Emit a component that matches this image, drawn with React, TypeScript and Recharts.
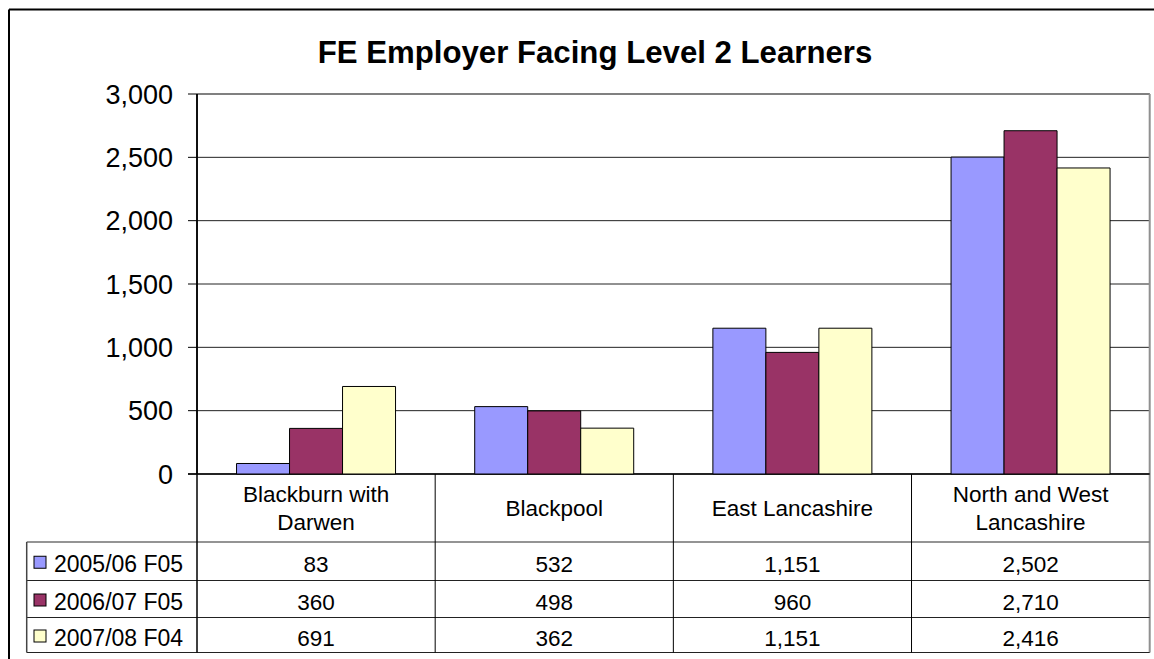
import { BarChart, Bar, XAxis, YAxis, CartesianGrid, Customized } from "recharts";

const categories = [
  "Blackburn with Darwen",
  "Blackpool",
  "East Lancashire",
  "North and West Lancashire",
];
// how each category name wraps in the table header
const categoryLines = [
  ["Blackburn with", "Darwen"],
  ["Blackpool"],
  ["East Lancashire"],
  ["North and West", "Lancashire"],
];

const seriesNames = ["2005/06 F05", "2006/07 F05", "2007/08 F04"];
const values0506 = [83, 532, 1151, 2502];
const values0607 = [360, 498, 960, 2710];
const values0708 = [691, 362, 1151, 2416];
const seriesColors = ["#9999FF", "#993366", "#FFFFCC"];

const yTicks = [0, 500, 1000, 1500, 2000, 2500, 3000];

const chartData = categories.map((name, i) => ({
  name,
  s0: values0506[i],
  s1: values0607[i],
  s2: values0708[i],
}));
const seriesValues = [values0506, values0607, values0708];

// layout in page coords (the chart covers the whole window)
const W = 1154;
const H = 659;
const PLOT_L = 197;
const PLOT_T = 94;
const PLOT_R = 1149.7;
const PLOT_B = 474;
const Y_AXIS_W = 80;
const HEADER_B = 542;
const ROW_LINES = [542, 580.5, 617.5, 652.5];
const TABLE_L = 26.7;
const FONT = "'Liberation Sans', Arial, sans-serif";

const fmt = (v: number) => v.toLocaleString("en-US");

const TableOverlay = () => {
  const band = (PLOT_R - PLOT_L) / categories.length;
  const headerMid = (PLOT_B + HEADER_B) / 2;
  return (
    <g fontFamily={FONT} fill="#000">
      {/* plot border, top + right */}
      <line x1={PLOT_L} y1={PLOT_T} x2={PLOT_R} y2={PLOT_T} stroke="#808080" strokeWidth={2} />
      <line x1={PLOT_R} y1={PLOT_T} x2={PLOT_R} y2={ROW_LINES[3]} stroke="#909090" strokeWidth={2} />
      {/* table horizontal lines */}
      <line x1={PLOT_L - 9} y1={PLOT_B} x2={PLOT_R} y2={PLOT_B} stroke="#000" strokeWidth={1.5} />
      {ROW_LINES.map((y, i) => (
        <line
          key={y}
          x1={TABLE_L}
          y1={y}
          x2={PLOT_R}
          y2={y}
          stroke={i === 0 ? "#707070" : "#222"}
          strokeWidth={i === 0 ? 1.5 : 1}
        />
      ))}
      <line x1={TABLE_L} y1={HEADER_B} x2={TABLE_L} y2={ROW_LINES[3]} stroke="#444" strokeWidth={1.5} />
      <line x1={PLOT_L} y1={PLOT_T} x2={PLOT_L} y2={ROW_LINES[3]} stroke="#000" strokeWidth={1.5} />
      {categories.slice(1).map((c, i) => (
        <line
          key={c}
          x1={PLOT_L + band * (i + 1)}
          y1={PLOT_B}
          x2={PLOT_L + band * (i + 1)}
          y2={ROW_LINES[3]}
          stroke="#000"
          strokeWidth={1}
        />
      ))}
      {/* header labels */}
      {categoryLines.map((lines, i) => {
        const cx = PLOT_L + band * (i + 0.5);
        return lines.map((t, j) => (
          <text
            key={t}
            x={cx}
            y={headerMid + 8 + (j - (lines.length - 1) / 2) * 28.5}
            textAnchor="middle"
            fontSize={22.5}
          >
            {t}
          </text>
        ));
      })}
      {/* rows */}
      {seriesNames.map((s, r) => {
        const mid = (ROW_LINES[r] + ROW_LINES[r + 1]) / 2;
        return (
          <g key={s}>
            <rect x={34} y={mid - 5} width={12} height={12} fill={seriesColors[r]} stroke="#000" strokeWidth={1} />
            <text x={54} y={mid + 10.5} fontSize={23}>
              {s}
            </text>
            {seriesValues[r].map((v, i) => (
              <text key={i} x={PLOT_L + band * (i + 0.5)} y={mid + 10.5} textAnchor="middle" fontSize={22.5}>
                {fmt(v)}
              </text>
            ))}
          </g>
        );
      })}
      {/* title */}
      <text x={595} y={63} textAnchor="middle" fontSize={31.2} fontWeight="bold">
        FE Employer Facing Level 2 Learners
      </text>
      {/* outer frame: only top and left edges fall inside the picture */}
      <line x1={9} y1={9.5} x2={W} y2={9.5} stroke="#000" strokeWidth={2} />
      <line x1={9} y1={9.5} x2={9} y2={H} stroke="#000" strokeWidth={2} />
    </g>
  );
};

export default function App() {
  return (
    <div
      style={{
        position: "absolute",
        left: 0,
        top: 0,
        width: W,
        height: H,
        overflow: "hidden",
        background: "#fff",
      }}
    >
      <BarChart
        width={W}
        height={H}
        data={chartData}
        margin={{ top: PLOT_T, right: W - PLOT_R, bottom: H - PLOT_B, left: PLOT_L - Y_AXIS_W }}
        barCategoryGap="16.6%"
        barGap={0}
      >
        <CartesianGrid vertical={false} stroke="#222" strokeWidth={1} />
        <XAxis dataKey="name" hide />
        <YAxis
          width={Y_AXIS_W}
          domain={[0, 3000]}
          ticks={yTicks}
          interval={0}
          tickFormatter={fmt}
          tickSize={9}
          tickMargin={15}
          axisLine={{ stroke: "#000", strokeWidth: 1.5 }}
          tickLine={{ stroke: "#000" }}
          tick={{ fontSize: 27, fill: "#000", fontFamily: FONT }}
        />
        {["s0", "s1", "s2"].map((k, i) => (
          <Bar
            key={k}
            dataKey={k}
            name={seriesNames[i]}
            fill={seriesColors[i]}
            stroke="#000"
            strokeWidth={1}
            isAnimationActive={false}
          />
        ))}
        <Customized component={TableOverlay} />
      </BarChart>
    </div>
  );
}
